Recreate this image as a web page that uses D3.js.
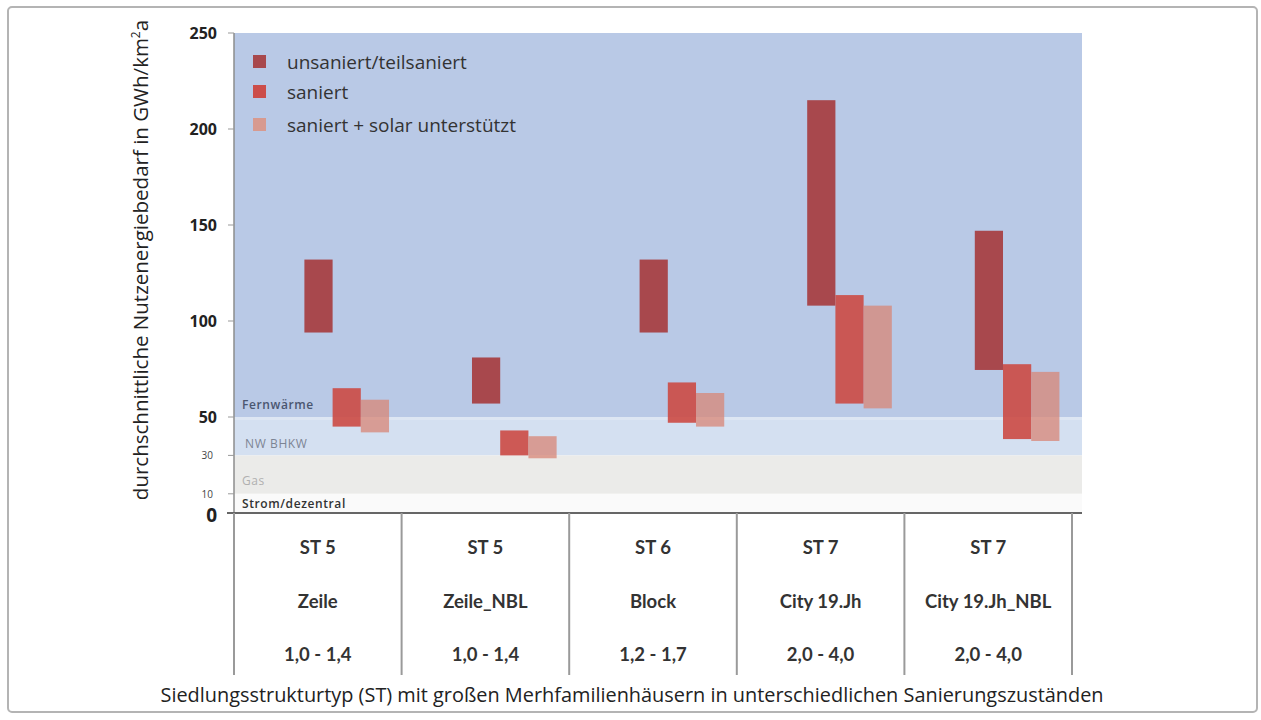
<!DOCTYPE html>
<html>
<head>
<meta charset="utf-8">
<script src="https://cdn.jsdelivr.net/npm/d3@7"></script>
<style>
  body { margin: 0; background: #fff; }
  svg { display: block; }
</style>
</head>
<body>
<div id="chart"></div>
<script>
// categories and table rows
const categories = ["Zeile", "Zeile_NBL", "Block", "City 19.Jh", "City 19.Jh_NBL"];
const stTypes = ["ST 5", "ST 5", "ST 6", "ST 7", "ST 7"];
const densities = ["1,0 - 1,4", "1,0 - 1,4", "1,2 - 1,7", "2,0 - 4,0", "2,0 - 4,0"];

// series (range bars: low - high)
const seriesNames = ["unsaniert/teilsaniert", "saniert", "saniert + solar unterstützt"];
const unsaniertLow  = [94, 57, 94, 108, 74.5];
const unsaniertHigh = [132, 81, 132, 215, 147];
const saniertLow    = [45, 30, 47, 57, 38.5];
const saniertHigh   = [65, 43, 68, 113.5, 77.5];
const solarLow      = [42, 28.5, 45, 54.5, 37.5];
const solarHigh     = [59, 40, 62.5, 108, 73.5];

// background bands (supply zones)
const bandNames = ["Fernwärme", "NW BHKW", "Gas", "Strom/dezentral"];
const bandFrom  = [50, 30, 10, 0];
const bandTo    = [250, 50, 30, 10];

const yTicksMajor = [0, 50, 100, 150, 200, 250];
const yTicksMinor = [10, 30];

const W = 1261, H = 720;
const plotL = 234, plotR = 1082, plotT = 33, plotB = 513;

const svg = d3.select("#chart").append("svg")
  .attr("width", W).attr("height", H);

// outer frame
svg.append("rect")
  .attr("x", 8).attr("y", 7).attr("width", 1249).attr("height", 705)
  .attr("rx", 4)
  .attr("fill", "#fff").attr("stroke", "#b4b4b4").attr("stroke-width", 2);

var y = d3.scaleLinear().domain([0, 250]).range([plotB, plotT]);

var x = d3.scaleBand()
  .domain(categories)
  .range([234, 1072])
  .paddingInner(0).paddingOuter(0);

var xs = d3.scaleBand()
  .domain(seriesNames)
  .range([x.bandwidth() * 0.42, x.bandwidth() * 0.925]);

// bands
const bandFill = ["#b9c9e6", "#d4e0f1", "#ebebe9", "#fafafa"];
const bandText = ["#4a5670", "#7c8494", "#b0b0b0", "#333"];
bandNames.forEach((b, i) => {
  svg.append("rect")
    .attr("x", plotL).attr("width", plotR - plotL)
    .attr("y", y(bandTo[i])).attr("height", y(bandFrom[i]) - y(bandTo[i]))
    .attr("fill", bandFill[i]);
});
// soft transition under Fernwärme band
svg.append("rect")
  .attr("x", plotL).attr("width", plotR - plotL)
  .attr("y", y(50)).attr("height", 3)
  .attr("fill", "#dde6f3");

const labelY = [y(50) - 8, y(30) - 7, y(10) - 9, y(0) - 5];
bandNames.forEach((b, i) => {
  svg.append("text")
    .attr("x", i === 1 ? 245 : 242).attr("y", labelY[i])
    .attr("font-family", "Open Sans, sans-serif")
    .attr("font-size", 12)
    .attr("letter-spacing", 0.6)
    .attr("font-weight", i === 0 || i === 3 ? 600 : 400)
    .attr("fill", bandText[i])
    .text(b);
});

// bars
const barColors = ["#a8484d", "#cc4a44", "#d88575"];
const barOpacity = [1, 0.9, 0.75];
const lows = [unsaniertLow, saniertLow, solarLow];
const highs = [unsaniertHigh, saniertHigh, solarHigh];

seriesNames.forEach((s, si) => {
  svg.append("g").selectAll("rect")
    .data(categories)
    .enter()
    .append("rect")
      .attr("x", (d) => x(d) + xs(s))
      .attr("width", xs.bandwidth())
      .attr("y", (d, i) => y(highs[si][i]))
      .attr("height", (d, i) => y(lows[si][i]) - y(highs[si][i]))
      .attr("fill", barColors[si])
      .attr("fill-opacity", barOpacity[si]);
});

// legend
const legendColors = ["#a8484d", "#cc4d4a", "#d79a90"];
seriesNames.forEach((s, i) => {
  var ly = [62, 92, 125][i];
  svg.append("rect")
    .attr("x", 253).attr("y", ly - 7).attr("width", 13).attr("height", 13)
    .attr("fill", legendColors[i]);
  svg.append("text")
    .attr("x", 287).attr("y", ly + 7)
    .attr("font-family", "Open Sans, sans-serif")
    .attr("font-size", 19)
    .attr("fill", "#333")
    .text(s);
});

// y axis line + ticks
svg.append("line")
  .attr("x1", plotL).attr("x2", plotL).attr("y1", plotT).attr("y2", plotB)
  .attr("stroke", "#8d8d8d").attr("stroke-width", 1.5);

yTicksMajor.concat(yTicksMinor).forEach(t => {
  svg.append("line")
    .attr("x1", plotL - 6).attr("x2", plotL)
    .attr("y1", y(t)).attr("y2", y(t))
    .attr("stroke", "#999").attr("stroke-width", 1);
});

yTicksMajor.forEach(t => {
  svg.append("text")
    .attr("x", 217).attr("y", y(t) + (t === 0 ? 9 : 6))
    .attr("text-anchor", "end")
    .attr("font-family", "Open Sans, sans-serif")
    .attr("font-size", t === 0 ? 19 : 16)
    .attr("font-weight", 700)
    .attr("fill", "#222")
    .text(t);
});
yTicksMinor.forEach(t => {
  svg.append("text")
    .attr("x", 213).attr("y", y(t) + 4)
    .attr("text-anchor", "end")
    .attr("font-family", "Open Sans, sans-serif")
    .attr("font-size", 10)
    .attr("fill", "#444")
    .text(t);
});

// y title
svg.append("text")
  .attr("transform", "translate(148,260) rotate(-90)")
  .attr("text-anchor", "middle")
  .attr("font-family", "Open Sans, sans-serif")
  .attr("font-size", 20.5)
  .attr("fill", "#222")
  .html("durchschnittliche Nutzenergiebedarf in GWh/km<tspan dy='-8' font-size='12'>2</tspan><tspan dy='8'>a</tspan>");

// x axis line
svg.append("line")
  .attr("x1", 227).attr("x2", plotR).attr("y1", plotB).attr("y2", plotB)
  .attr("stroke", "#666").attr("stroke-width", 2);

// table columns
const colLines = categories.map(c => x(c)).concat([x.range()[1]]);
svg.append("g").selectAll("line")
  .data(colLines)
  .enter()
  .append("line")
    .attr("x1", d => d).attr("x2", d => d)
    .attr("y1", plotB).attr("y2", 675)
    .attr("stroke", "#9a9a9a").attr("stroke-width", 2);

const rows = [stTypes, categories, densities];
const rowY = [548, 602, 655];
rows.forEach((r, ri) => {
  svg.append("g").selectAll("text")
    .data(r)
    .enter()
    .append("text")
      .attr("x", (d, i) => x(categories[i]) + x.bandwidth() / 2)
      .attr("y", rowY[ri] + 6)
      .attr("text-anchor", "middle")
      .attr("font-family", "Lato, sans-serif")
      .attr("font-size", 18.5)
      .attr("font-weight", 700)
      .attr("fill", "#333")
      .text(d => d);
});

// caption
svg.append("text")
  .attr("x", 632).attr("y", 702)
  .attr("text-anchor", "middle")
  .attr("font-family", "Open Sans, sans-serif")
  .attr("font-size", 19.9)
  .attr("fill", "#222")
  .text("Siedlungsstrukturtyp (ST) mit großen Merhfamilienhäusern in unterschiedlichen Sanierungszuständen");
</script>
</body>
</html>
